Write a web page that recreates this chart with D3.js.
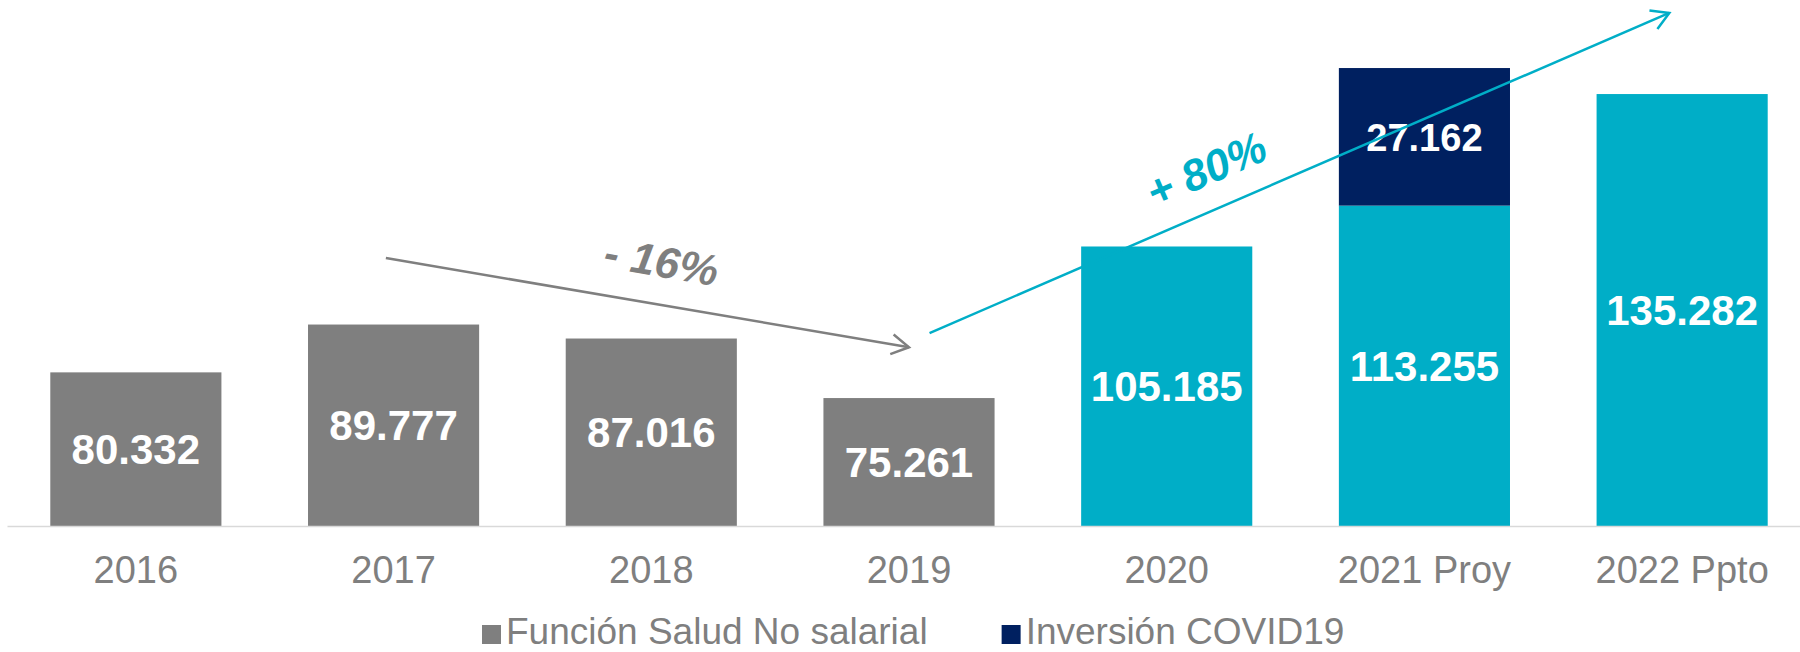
<!DOCTYPE html>
<html>
<head>
<meta charset="utf-8">
<script src="https://cdn.jsdelivr.net/npm/d3@7"></script>
<style>
  html, body { margin: 0; padding: 0; background: #fff; }
  svg { display: block; font-family: "Liberation Sans", Arial, sans-serif; }
</style>
</head>
<body>
<div id="wrapper"></div>
<script>
const categories = ["2016", "2017", "2018", "2019", "2020", "2021 Proy", "2022 Ppto"];
const saludNoSalarial = [80.332, 89.777, 87.016, 75.261, 105.185, 113.255, 135.282];
const inversionCovid = [0, 0, 0, 0, 0, 27.162, 0];
const seriesNames = ["Función Salud No salarial", "Inversión COVID19"];

// trend arrows: band + fraction of band width, value on y axis
const trendArrows = [
    { label: "- 16%", from: ["2017", 0.455, 102.9], to: ["2019", 0.5, 85.3], at: ["2018", 0.56, 102.3] },
    { label: "+ 80%", from: ["2019", 0.62, 88.1], to: ["2022 Ppto", 0.425, 151.3], at: ["2020", 0.73, 120.5] }
];

const GRAY = "#7f7f7f";
const TEAL = "#00aec7";
const NAVY = "#002060";

function buildChart() {
    const dimension = { width: 1800, height: 652, baseline: 526, top: 19.5 };

    const svg = d3.select("#wrapper").append("svg")
        .attr("width", dimension.width)
        .attr("height", dimension.height);

    const xScaler = d3.scaleBand()
        .domain(categories)
        .range([7, 1811])
        .paddingInner(0.336)
        .paddingOuter(0.168);

    const yScaler = d3.scaleLinear()
        .domain([50, 150])
        .range([dimension.baseline, dimension.top]);

    const baseColor = (cat) => categories.indexOf(cat) >= categories.indexOf("2020") ? TEAL : GRAY;

    const rows = categories.map((c, i) => ({ cat: c, base: saludNoSalarial[i], covid: inversionCovid[i] }));

    // base series
    svg.append("g").selectAll("rect.base")
        .data(rows)
        .join("rect")
        .attr("x", d => xScaler(d.cat))
        .attr("width", xScaler.bandwidth())
        .attr("y", d => yScaler(d.base))
        .attr("height", d => yScaler(yScaler.domain()[0]) - yScaler(d.base))
        .attr("fill", d => baseColor(d.cat));

    // covid series stacked on top
    const covidRows = rows.filter(d => d.covid > 0);
    svg.append("g").selectAll("rect.covid")
        .data(covidRows)
        .join("rect")
        .attr("x", d => xScaler(d.cat))
        .attr("width", xScaler.bandwidth())
        .attr("y", d => yScaler(d.base + d.covid))
        .attr("height", d => yScaler(d.base) - yScaler(d.base + d.covid))
        .attr("fill", NAVY);

    const fmt = (v) => v.toFixed(3);

    svg.append("g").selectAll("text")
        .data(rows)
        .join("text")
        .attr("x", d => xScaler(d.cat) + xScaler.bandwidth() / 2)
        .attr("y", d => (yScaler(d.base) + yScaler(yScaler.domain()[0])) / 2)
        .attr("dy", "0.36em")
        .attr("text-anchor", "middle")
        .attr("fill", "#fff")
        .attr("font-weight", "bold")
        .attr("font-size", 42)
        .text(d => fmt(d.base));

    svg.append("g").selectAll("text")
        .data(covidRows)
        .join("text")
        .attr("x", d => xScaler(d.cat) + xScaler.bandwidth() / 2)
        .attr("y", d => (yScaler(d.base) + yScaler(d.base + d.covid)) / 2)
        .attr("dy", "0.36em")
        .attr("text-anchor", "middle")
        .attr("fill", "#fff")
        .attr("font-weight", "bold")
        .attr("font-size", 38)
        .text(d => fmt(d.covid));

    // x axis
    const xAxis = d3.axisBottom(xScaler).tickSize(0).tickSizeOuter(0);
    const axisG = svg.append("g")
        .attr("transform", "translate(0, " + dimension.baseline + ")")
        .call(xAxis);
    axisG.select(".domain").attr("stroke", "#d9d9d9").attr("stroke-width", 1.6);
    axisG.selectAll("text")
        .attr("y", 57)
        .attr("dy", 0)
        .attr("fill", GRAY)
        .attr("font-size", 38)
        .attr("font-family", "Liberation Sans, Arial, sans-serif");

    // arrow markers
    const defs = svg.append("defs");
    [["arrowGray", GRAY], ["arrowTeal", TEAL]].forEach(([id, col]) => {
        defs.append("marker")
            .attr("id", id)
            .attr("markerUnits", "userSpaceOnUse")
            .attr("orient", "auto")
            .attr("markerWidth", 30)
            .attr("markerHeight", 30)
            .attr("refX", 0)
            .attr("refY", 0)
            .attr("viewBox", "-25 -15 30 30")
            .attr("overflow", "visible")
            .append("path")
            .attr("d", "M-17.3,-10L0,0L-17.3,10")
            .attr("fill", "none")
            .attr("stroke", col)
            .attr("stroke-width", 2.5);
    });

    const px = (p) => xScaler(p[0]) + p[1] * xScaler.bandwidth();
    const py = (p) => yScaler(p[2]);

    trendArrows.forEach((t, i) => {
        const col = i === 0 ? GRAY : TEAL;
        const x1 = px(t.from), y1 = py(t.from), x2 = px(t.to), y2 = py(t.to);
        svg.append("line")
            .attr("x1", x1).attr("y1", y1)
            .attr("x2", x2).attr("y2", y2)
            .attr("stroke", col)
            .attr("stroke-width", 2.5)
            .attr("marker-end", `url(#${i === 0 ? "arrowGray" : "arrowTeal"})`);
        const angle = Math.atan2(y2 - y1, x2 - x1) * 180 / Math.PI;
        svg.append("text")
            .attr("transform", `translate(${px(t.at)}, ${py(t.at)}) rotate(${angle})`)
            .attr("text-anchor", "middle")
            .attr("dy", "0.36em")
            .attr("fill", col)
            .attr("font-weight", "bold")
            .attr("font-style", "italic")
            .attr("font-size", 44)
            .text(t.label);
    });

    // legend
    const legendColors = [GRAY, NAVY];
    const legend = svg.append("g");
    let lx = 482;
    seriesNames.forEach((name, i) => {
        const item = legend.append("g").attr("transform", `translate(${lx}, 625)`);
        item.append("rect").attr("width", 19).attr("height", 19).attr("fill", legendColors[i]);
        const t = item.append("text")
            .attr("x", 24)
            .attr("y", 19)
            .attr("fill", GRAY)
            .attr("font-size", 37)
            .text(name);
        lx += 24 + t.node().getComputedTextLength() + 74;
    });
}

buildChart();
</script>
</body>
</html>
